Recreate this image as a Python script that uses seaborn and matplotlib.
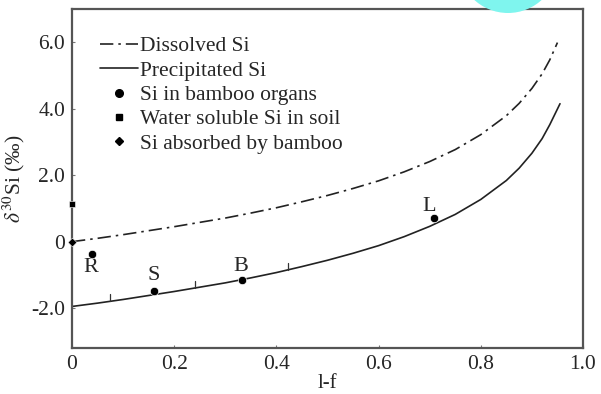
import matplotlib
matplotlib.use("Agg")
import matplotlib.pyplot as plt
import seaborn as sns
import numpy as np
import pandas as pd
from matplotlib.lines import Line2D
from matplotlib.patches import Circle
from matplotlib.ticker import FuncFormatter

# Кривые Рэлея
frac = [0.0, 0.05, 0.10, 0.15, 0.20, 0.25, 0.30, 0.35, 0.40, 0.45, 0.50, 0.55,
        0.60, 0.65, 0.70, 0.75, 0.80, 0.85, 0.875, 0.90, 0.92, 0.935, 0.95]
dissolved = [0.00, 0.10, 0.21, 0.33, 0.45, 0.58, 0.71, 0.86, 1.02, 1.20, 1.39, 1.60,
             1.83, 2.10, 2.41, 2.77, 3.22, 3.79, 4.16, 4.61, 5.05, 5.47, 5.99]
frac_p = [0.0, 0.05, 0.10, 0.15, 0.20, 0.25, 0.30, 0.35, 0.40, 0.45, 0.50, 0.55,
          0.60, 0.65, 0.70, 0.75, 0.80, 0.85, 0.875, 0.90, 0.92, 0.935, 0.955]
precipitated = [-1.95, -1.85, -1.74, -1.62, -1.50, -1.37, -1.24, -1.09, -0.93, -0.75,
                -0.56, -0.35, -0.12, 0.15, 0.46, 0.82, 1.27, 1.84, 2.21, 2.66, 3.10,
                3.52, 4.15]

# органы бамбука
organ_x = [0.039, 0.160, 0.333, 0.708]
organ_y = [-0.36, -1.47, -1.14, 0.72]
organ_lbl = ["R", "S", "B", "L"]
lbl_x = [0.036, 0.159, 0.331, 0.698]
lbl_y = [-0.78, -1.02, -0.74, 1.06]

soil_x, soil_y = [0.0], [1.12]
absorbed_x, absorbed_y = [0.0], [0.0]

# короткие отметки на кривой осадка
mark_x = [0.075, 0.241, 0.422]
mark_y0 = [-1.79, -1.40, -0.85]
mark_h = 0.22

df_d = pd.DataFrame({"x": frac, "y": dissolved})
df_p = pd.DataFrame({"x": frac_p, "y": precipitated})

sns.set_style("ticks")
plt.rcParams["font.family"] = ["Liberation Serif", "DejaVu Serif"]
plt.rcParams["mathtext.fontset"] = "stix"

fig = plt.figure(figsize=(6.01, 3.94), dpi=100)
ax = fig.add_axes([72 / 601, 1 - 348 / 394, 511 / 601, 339 / 394])

# пятно сверху (как на исходной картинке)
fig.patches.append(Circle((5.08, 3.94 + 0.37), 0.50, transform=fig.dpi_scale_trans,
                          facecolor="#7ff5ee", edgecolor="none", zorder=0))

dashdot = (0, (8, 3, 1.5, 3))
sns.lineplot(data=df_d, x="x", y="y", ax=ax, color="#222222", lw=1.2, linestyle=dashdot)
sns.lineplot(data=df_p, x="x", y="y", ax=ax, color="#222222", lw=1.2)

for mx, my in zip(mark_x, mark_y0):
    ax.plot([mx, mx], [my, my + mark_h], color="#333333", lw=0.9)

sns.scatterplot(x=organ_x, y=organ_y, ax=ax, color="black", s=36, marker="o", zorder=5)
sns.scatterplot(x=soil_x, y=soil_y, ax=ax, color="black", s=24, marker="s", zorder=5, clip_on=False)
sns.scatterplot(x=absorbed_x, y=absorbed_y, ax=ax, color="black", s=20, marker="D", zorder=5, clip_on=False)

for tx, ty, t in zip(lbl_x, lbl_y, organ_lbl):
    ax.text(tx, ty, t, fontsize=16, ha="center", va="center")

ax.set_xlim(0, 1.0)
ax.set_ylim(-3.2, 7.0)
ax.set_xticks([0, 0.2, 0.4, 0.6, 0.8, 1.0])
ax.set_yticks([-2, 0, 2, 4, 6])
ax.xaxis.set_major_formatter(FuncFormatter(lambda v, p: "0" if v == 0 else f"{v:.1f}"))
ax.yaxis.set_major_formatter(FuncFormatter(lambda v, p: "0" if v == 0 else f"{v:.1f}"))
ax.tick_params(direction="in", length=2, width=0.8, color="#777777", labelsize=15.5, pad=5)
for s in ax.spines.values():
    s.set_color("#555555")
    s.set_linewidth(1.6)

ax.set_xlabel("l-f", fontsize=15, labelpad=0)
ax.set_ylabel(r"$\delta^{30}$Si (‰)", fontsize=15.5, labelpad=3)

handles = [
    Line2D([], [], color="#222222", lw=1.2, linestyle=dashdot),
    Line2D([], [], color="#222222", lw=1.2),
    Line2D([], [], color="black", marker="o", ms=5.5, lw=0),
    Line2D([], [], color="black", marker="s", ms=4.5, lw=0),
    Line2D([], [], color="black", marker="D", ms=3.8, lw=0),
]
labels = ["Dissolved Si", "Precipitated Si", "Si in bamboo organs",
          "Water soluble Si in soil", "Si absorbed by bamboo"]
ax.legend(handles, labels, loc="upper left", bbox_to_anchor=(0.038, 0.945), frameon=False,
          fontsize=15.5, handlelength=1.75, handletextpad=0.12, labelspacing=0.2,
          borderaxespad=0)

fig.savefig("out.png", dpi=100)
plt.close(fig)
